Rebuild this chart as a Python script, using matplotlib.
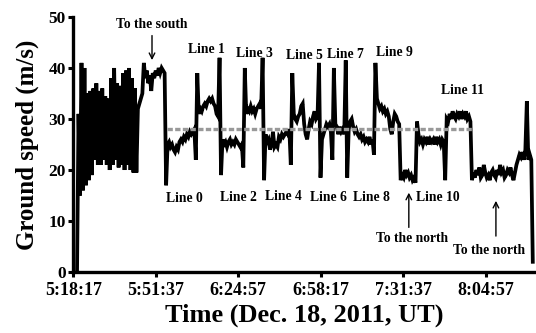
import numpy as np
import matplotlib
matplotlib.use('Agg')
import matplotlib.pyplot as plt

plt.rcParams['font.family'] = ['Liberation Serif', 'DejaVu Serif']
plt.rcParams['font.weight'] = 'bold'

# ground speed (m/s), sampled every 0.6 min starting 1.5 min after 5:18:17
speed = [
    0, 31, 15, 41, 16, 40, 17, 35, 18, 35.5,
    19, 36, 22, 37, 21, 35.5, 21, 36, 22, 34.5,
    21, 34, 20, 38, 21, 40, 22, 37, 20.5, 36.5,
    21, 39, 20, 39.5, 21, 40, 20, 38, 19.5, 36,
    19.5, 32, 33, 34, 35, 41, 38, 39.5, 37, 38.5,
    35.5, 39, 38, 39.5, 38.5, 40, 39, 40, 39.5, 39,
    17, 25, 25.5, 24.5, 25, 24, 23.5, 24.5, 24, 25.5,
    26, 25.5, 26.5, 26, 27, 26.5, 27.5, 27, 27.5, 28,
    22, 39, 31, 32, 31.5, 32.5, 33, 32.5, 33.5, 34,
    33.5, 34, 33, 32.5, 31, 30.5, 42, 19, 26, 25,
    25.5, 24.5, 25.5, 26, 25, 25.5, 25, 26, 25.5, 25,
    24.5, 25, 20.5, 40, 31, 32, 31.5, 32.5, 31.5, 32,
    31, 32, 32.5, 33, 32, 42, 18, 27, 25.5, 26,
    24, 25, 27.5, 24.5, 25, 24.5, 26.5, 26, 27, 26.5,
    27, 27.5, 27, 28, 21, 39, 31, 30, 29.5, 30.5,
    31, 32.5, 33, 29, 27, 26, 28, 29.5, 29, 30.5,
    31.5, 30, 30.5, 41, 18.5, 26, 27, 28, 29, 28.5,
    29, 27.5, 22, 40, 29, 28.5, 27, 28.5, 27.5, 28,
    27, 41.5, 18.5, 28, 29.5, 30, 28.5, 27.5, 28, 27,
    26.5, 27, 26, 26.5, 25.5, 26, 25.5, 26.5, 25, 26,
    23, 41, 34, 33, 32, 32.5, 31.5, 32, 31, 31.5,
    30.5, 28, 27, 29.5, 31, 30.5, 29.5, 29, 18, 19,
    18.5, 20, 19, 19.5, 18.5, 19, 18, 18.5, 17.5, 29.5,
    27, 25.5, 26, 25, 26, 25.5, 26.5, 25, 26, 25.5,
    26, 25, 26.5, 25.5, 26, 25, 26, 25.5, 18, 30,
    29.5, 31, 30, 31.5, 30.5, 30, 31, 30.5, 31.5, 30,
    31, 30.5, 31.5, 30, 30.5, 29.5, 18, 19.5, 18.5, 20,
    19, 20.5, 18.5, 19, 21, 19.5, 18.5, 19, 18, 19.5,
    20, 19, 18.5, 20, 19, 21, 19.5, 20, 18.5, 19,
    20, 19.5, 20.5, 19, 18, 19.5, 21, 22, 23, 22.5,
    23.5, 22, 24, 33.5, 22, 23, 22, 2,
]
t = 1.5 + 0.6 * np.arange(len(speed))

mean_speed = 28
mean_span = [37.9, 161.5]

tick_pos = [0, 33.33, 66.67, 100, 133.33, 166.67]
tick_lab = ['5:18:17', '5:51:37', '6:24:57', '6:58:17', '7:31:37', '8:04:57']

fig = plt.figure(figsize=(5.36, 3.33), dpi=100)
ax = fig.add_axes([0.1368, 0.1832, 0.8632, 0.7658])

ax.plot(mean_span, [mean_speed, mean_speed], color='#999999', lw=2.4,
        ls=(0, (1.6, 0.7)), zorder=3)
ax.plot(t, speed, color='black', lw=2.7, zorder=2, solid_joinstyle='miter')

ax.set_xlim(0, 187)
ax.set_ylim(0, 50)
ax.set_xticks(tick_pos)
ax.set_xticklabels(tick_lab)
ax.set_yticks([0, 10, 20, 30, 40, 50])
ax.tick_params(width=2.2, length=3.5, direction='out')
ax.tick_params(axis='x', labelsize=13, pad=4)
ax.tick_params(axis='y', labelsize=12.5, pad=2)
for lab in ax.get_xticklabels() + ax.get_yticklabels():
    lab.set_fontweight('bold')
ax.spines['top'].set_visible(False)
ax.spines['right'].set_visible(False)
ax.spines['left'].set_linewidth(2.4)
ax.spines['bottom'].set_linewidth(2.4)

ax.set_xlabel('Time (Dec. 18, 2011, UT)', fontsize=19, fontweight='bold', labelpad=3)
ax.set_ylabel('Ground speed (m/s)', fontsize=18, fontweight='bold', labelpad=7)

fs = 9.8
top_labels = [('Line 1', 54.0, 43.7), ('Line 3', 73.0, 42.9), ('Line 5', 93.6, 42.5),
              ('Line 7', 109.8, 42.7), ('Line 9', 129.6, 43.1), ('Line 11', 157.4, 35.5)]
bot_labels = [('Line 0', 44.7, 14.5), ('Line 2', 66.9, 14.7), ('Line 4', 84.7, 14.9),
              ('Line 6', 103.3, 14.7), ('Line 8', 120.3, 14.7), ('Line 10', 147.3, 14.7)]
for s, x, y in top_labels + bot_labels:
    ax.text(x, y, s, fontsize=fs, fontweight='bold', ha='center', va='center')

ax.annotate('', xy=(31.8, 41.0), xytext=(31.8, 46.9),
            arrowprops=dict(arrowstyle='->', lw=1, color='black'))
ax.text(31.8, 48.6, 'To the south', fontsize=fs, fontweight='bold', ha='center', va='center')
ax.annotate('', xy=(135.6, 16.1), xytext=(135.6, 8.2),
            arrowprops=dict(arrowstyle='->', lw=1, color='black'))
ax.text(136.8, 6.5, 'To the north', fontsize=fs, fontweight='bold', ha='center', va='center')
ax.annotate('', xy=(170.8, 14.5), xytext=(170.8, 6.5),
            arrowprops=dict(arrowstyle='->', lw=1, color='black'))
ax.text(168.0, 4.3, 'To the north', fontsize=fs, fontweight='bold', ha='center', va='center',
        clip_on=False)

fig.savefig('out.png', dpi=100)
